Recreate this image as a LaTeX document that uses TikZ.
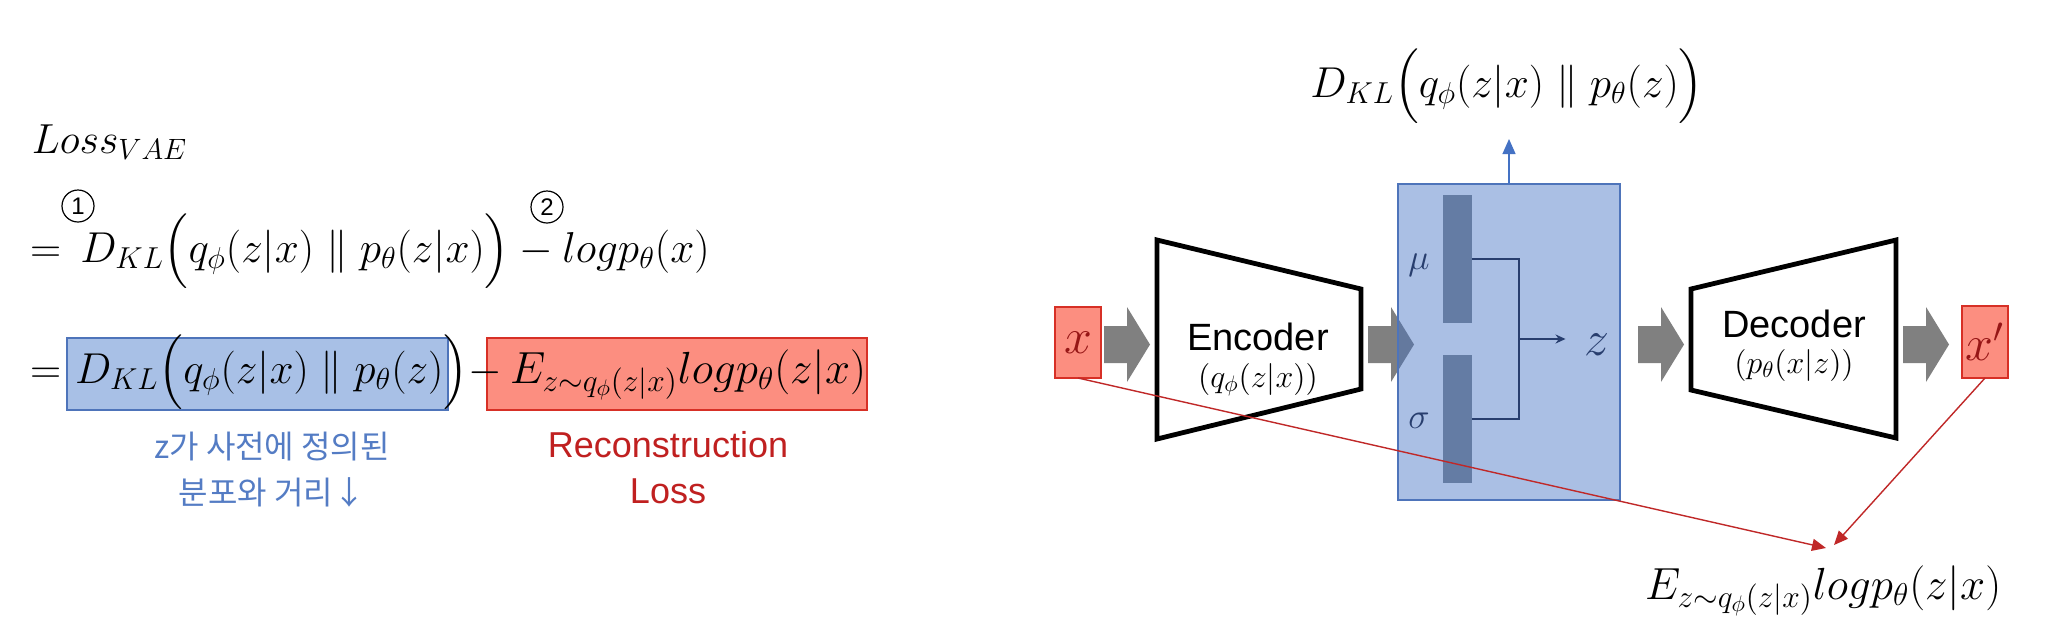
\RequirePackage{fix-cm}
\documentclass[tikz,border=0pt]{standalone}
\usepackage{amsmath}
\usepackage{fontspec}
\newfontfamily\sansf{Liberation Sans}
\newfontfamily\krf{Noto Sans CJK KR}
\usetikzlibrary{arrows.meta,calc}
\definecolor{bluefill}{RGB}{68,114,196}
\definecolor{eqblue}{RGB}{168,192,230}
\definecolor{blueedge}{RGB}{78,116,186}
\definecolor{barcol}{RGB}{100,124,164}
\definecolor{navy}{RGB}{40,62,110}
\definecolor{redfill}{RGB}{252,142,128}
\definecolor{rededge}{RGB}{215,48,38}
\definecolor{redtxt}{RGB}{192,32,32}
\definecolor{bluetxt}{RGB}{84,124,196}
\definecolor{arrgrey}{RGB}{128,128,128}
\definecolor{xred}{RGB}{150,22,22}
\definecolor{linered}{RGB}{192,40,40}
\definecolor{upblue}{RGB}{68,114,196}
\tikzset{
  eq/.style={font=\fontsize{21.6}{27}\selectfont},
  eqe/.style={font=\fontsize{22.5}{27}\selectfont},
  sanslbl/.style={font=\sansf\fontsize{19}{22}\selectfont},
  sublbl/.style={font=\fontsize{16}{19}\selectfont},
  circnum/.style={draw=black, line width=0.6pt, circle, minimum size=16pt, font=\sansf\fontsize{12}{14}\selectfont},
  redbox/.style={draw=rededge, fill=redfill, line width=1pt},
  bluebox/.style={draw=blueedge, fill=eqblue, line width=1pt},
  coder/.style={draw=black, line width=2.4pt, line join=miter},
  garrow/.style={fill=arrgrey},
  redline/.style={draw=linered, line width=0.7pt, -{Triangle[length=7pt,width=6pt]}},
}
\begin{document}
\begin{tikzpicture}[x=0.5pt,y=-0.5pt, every node/.style={inner sep=0pt, outer sep=0pt}]
\useasboundingbox (0,0) rectangle (2048,616);
\fill[white] (0,0) rectangle (2048,616);

% ---------------- left: equations ----------------
\node[font=\fontsize{21}{26}\selectfont, anchor=base west] (loss) at (32,153) {$Loss_{VAE}$};
\node[circnum] (c1) at (78,206) {1};
\node[circnum] (c2) at (547,207) {2};
\node[eq, anchor=base west] (l1) at (30,262) {$=\,D_{KL}\Big(q_\phi(z|x)\parallel p_\theta(z|x)\Big)-logp_\theta(x)$};

\node[bluebox, minimum width=190.5pt, minimum height=36pt] (bbox) at (257.5,374) {};
\node[redbox, minimum width=190pt, minimum height=36pt] (rbox) at (677,374) {};
\node[eq, anchor=base west] (eq2) at (30,383) {$=$};
\node[eq, anchor=base west] (eqb) at (75,383) {$D_{KL}\Big(q_\phi(z|x)\parallel p_\theta(z)$};
\node[eq, anchor=base west] (eqm) at (eqb.base east) {$\Big)-$};
\node[eqe, anchor=base west] (eqr) at (510,383) {$E_{z\sim q_\phi(z|x)}logp_\theta(z|x)$};

\node[font=\krf\fontsize{16}{23}\selectfont, text=bluetxt, align=center] (kr) at (272,470) {z가 사전에 정의된\\분포와 거리↓};
\node[font=\sansf\fontsize{18}{23}\selectfont, text=redtxt, align=center] (rl) at (668,468) {Reconstruction\\Loss};

% ---------------- right: VAE diagram ----------------
% grey block arrows
\fill[garrow] (1104,326) -- (1127,326) -- (1127,307) -- (1150,344.5) -- (1127,382) -- (1127,363) -- (1104,363) -- cycle;
\fill[garrow] (1368,326) -- (1391,326) -- (1391,307) -- (1414,344.5) -- (1391,382) -- (1391,363) -- (1368,363) -- cycle;
\fill[garrow] (1638,326) -- (1661,326) -- (1661,307) -- (1684,344.5) -- (1661,382) -- (1661,363) -- (1638,363) -- cycle;
\fill[garrow] (1903,326) -- (1926,326) -- (1926,307) -- (1949,344.5) -- (1926,382) -- (1926,363) -- (1903,363) -- cycle;

% input / output
\node[redbox, minimum width=23pt, minimum height=35.5pt, font=\fontsize{25}{30}\selectfont, text=xred] (xin) at (1078,342.5) {$x$};
\node[redbox, minimum width=23pt, minimum height=36pt, font=\fontsize{25}{30}\selectfont, text=xred] (xout) at (1985,342) {$x'$};

% encoder / decoder
\draw[coder] (1157,240) -- (1361,289) -- (1361,389) -- (1157,439) -- cycle;
\node[sanslbl, anchor=base] (enc) at (1258,350) {Encoder};
\node[sublbl, anchor=base] (encq) at (1258,387) {$(q_\phi(z|x))$};
\draw[coder] (1691,289) -- (1896,240) -- (1896,438) -- (1691,390) -- cycle;
\node[sanslbl, anchor=base] (dec) at (1794,337) {Decoder};
\node[sublbl, anchor=base] (decp) at (1794,373) {$(p_\theta(x|z))$};

% latent box
\node[fill=bluefill, fill opacity=0.45, draw=blueedge, line width=1pt, minimum width=111pt, minimum height=158pt] (lat) at (1509,342) {};
\node[fill=barcol, minimum width=14.5pt, minimum height=64pt] (mu) at (1457.5,259) {};
\node[fill=barcol, minimum width=14.5pt, minimum height=64pt] (sg) at (1457.5,419) {};
\node[font=\fontsize{18}{20}\selectfont, text=navy] (mul) at (1419,265) {$\mu$};
\node[font=\fontsize{18}{20}\selectfont, text=navy] (sgl) at (1419,421) {$\sigma$};
\node[font=\fontsize{25}{30}\selectfont, text=navy] (zl) at (1597,345) {$z$};
\coordinate (j) at (1519,339);
\draw[navy, line width=0.9pt] (mu.east) -| (j) |- (sg.east);
\draw[navy, line width=0.9pt, -{Stealth[length=5pt,width=4.5pt]}, shorten >=9.5pt] (j) -- (j -| zl.west);

% labels top / bottom
\node[eq, anchor=base] (kl) at (1507,97) {$D_{KL}\Big(q_\phi(z|x)\parallel p_\theta(z)\Big)$};
\draw[upblue, line width=0.6pt, -{Triangle[length=7.5pt,width=6.5pt]}] (lat.north) -- ($(lat.north |- kl.south)+(0,14)$);
\node[eqe, anchor=base west] (elbl) at (1645,599) {$E_{z\sim q_\phi(z|x)}logp_\theta(z|x)$};

% reconstruction connectors
\coordinate (t1) at (1826,548);
\coordinate (t2) at (1834,545);
\draw[redline] (xin.south) -- (t1);
\draw[redline] (xout.south) -- (t2);
\end{tikzpicture}
\end{document}
